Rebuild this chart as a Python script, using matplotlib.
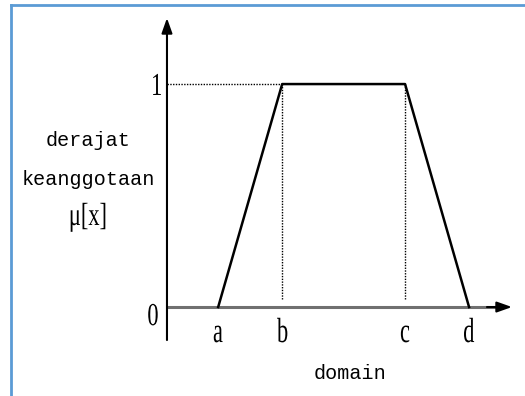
import matplotlib
matplotlib.use("Agg")
import matplotlib.pyplot as plt
from matplotlib.textpath import TextPath
from matplotlib.patches import PathPatch
from matplotlib.font_manager import FontProperties
from matplotlib.transforms import Affine2D

# trapezoid membership function
point_names = ["a", "b", "c", "d"]
domain_pts = [0.8, 1.8, 3.72, 4.72]
membership = [0, 1, 1, 0]
y_ticks = [0, 1]
y_tick_labels = ["0", "1"]

fig = plt.figure(figsize=(5.25, 3.96), dpi=100)
ax = fig.add_axes([0, 0, 1, 1])
ax.set_xlim(-2.609, 5.594)
ax.set_ylim(-0.399, 1.377)
ax.axis("off")

serif_fp = FontProperties(family="Liberation Serif")


def narrow_text(x, y, s, em=32, sx=0.7):
    # serif label squeezed horizontally, centred at x, baseline at y
    tp = TextPath((0, 0), s, size=1, prop=serif_fp)
    ext = tp.get_extents()
    px, py = ax.transData.transform((x, y))
    tr = (Affine2D().translate(-(ext.x0 + ext.x1) / 2, 0)
          .scale(em * sx, em).translate(px, py))
    ax.add_patch(PathPatch(tr.transform_path(tp), transform=None,
                           facecolor="black", edgecolor="none"))


# blue frame (left + top)
ax.plot([11 / 525, 11 / 525], [0, 1 - 5 / 396], color="#5B9BD5", lw=2,
        transform=ax.transAxes, clip_on=False)
ax.plot([11 / 525, 1], [1 - 5 / 396, 1 - 5 / 396], color="#5B9BD5", lw=2,
        transform=ax.transAxes, clip_on=False)

# axes with arrows
ax.plot([0, 5.2], [0, 0], color="#707070", lw=2.2, solid_capstyle="butt")
ax.annotate("", xy=(5.39, 0), xytext=(5.0, 0),
            arrowprops=dict(arrowstyle="-|>,head_length=0.9,head_width=0.32",
                            color="black", lw=1.5, shrinkA=0, shrinkB=0))
ax.annotate("", xy=(0, 1.296), xytext=(0, -0.148),
            arrowprops=dict(arrowstyle="-|>,head_length=0.9,head_width=0.32",
                            color="black", lw=1.5, shrinkA=0, shrinkB=0))

# dotted guides
ax.plot([0, domain_pts[1]], [1, 1], color="black", lw=1, ls=(0, (1, 1)))
for x in domain_pts[1:3]:
    ax.plot([x, x], [0.035, 1], color="black", lw=1, ls=(0, (1, 1)))

# the trapezoid
ax.plot(domain_pts, membership, color="black", lw=1.8)

narrow_text(-0.219, y_ticks[0] - 0.081, y_tick_labels[0])
narrow_text(-0.156, y_ticks[1] - 0.049, y_tick_labels[1])
for x, name in zip(domain_pts, point_names):
    narrow_text(x, -0.157, name, em=35, sx=0.64)

mono = dict(family="Liberation Mono", fontsize=14.5, color="black")
ax.text(2.86, -0.296, "domain", ha="center", va="center", **mono)
ax.text(-1.23, 0.749, "derajat", ha="center", va="center", **mono)
ax.text(-1.23, 0.57, "keanggotaan", ha="center", va="center", **mono)
narrow_text(-1.234, 0.368, "μ[x]")

fig.savefig("out.png", dpi=100)
